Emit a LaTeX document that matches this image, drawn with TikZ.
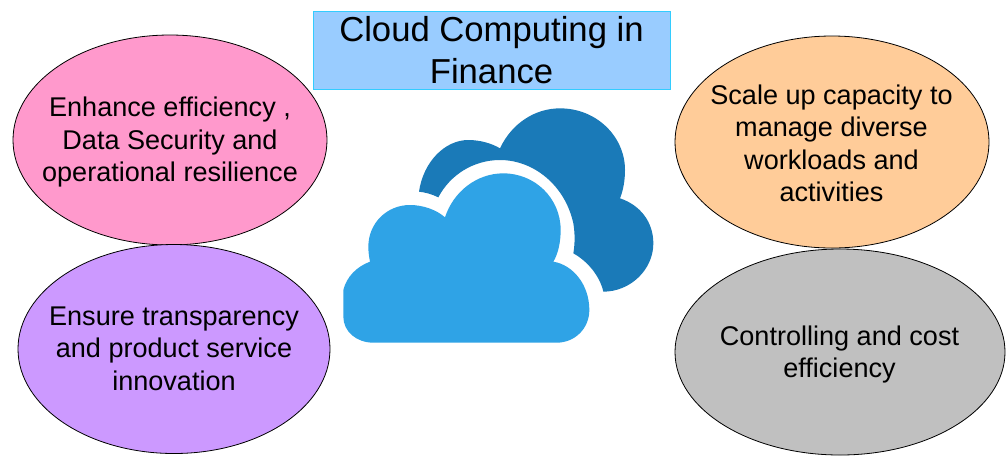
\documentclass[tikz,border=0pt]{standalone}
\usepackage{fontspec}
\setmainfont{Liberation Sans}
\definecolor{pinkfill}{HTML}{FF99CC}
\definecolor{purplefill}{HTML}{CC99FF}
\definecolor{orangefill}{HTML}{FFCC99}
\definecolor{grayfill}{HTML}{C0C0C0}
\definecolor{titlefill}{HTML}{99CCFF}
\definecolor{titleline}{HTML}{33CCFF}
\definecolor{clouddark}{HTML}{1A7AB8}
\definecolor{cloudlight}{HTML}{2FA3E6}
\tikzset{
  blob/.style={draw=black,line width=0.6pt,align=center,font=\fontsize{20.3}{24.4}\selectfont},
  titlebox/.style={draw=titleline,fill=titlefill,line width=0.6pt,align=center,font=\fontsize{26}{32}\selectfont}
}
\begin{document}
\begin{tikzpicture}[x=0.75pt,y=-0.75pt]
\useasboundingbox (0,0) rectangle (1006,455);
\fill[white] (0,0) rectangle (1006,455);
\path[blob,fill=pinkfill] (170,140) ellipse [x radius=157,y radius=105];
\path[blob,fill=purplefill] (174,349) ellipse [x radius=156,y radius=104.5];
\path[blob,fill=orangefill] (832,142) ellipse [x radius=157,y radius=106];
\path[blob,fill=grayfill] (840,352) ellipse [x radius=165,y radius=103];
\node[blob,draw=none] (pink) at (170,142) {Enhance efficiency ,\\Data Security and\\operational resilience};
\node[blob,draw=none] (purple) at (174,348.5) {Ensure transparency\\and product service\\innovation};
\node[blob,draw=none] (orange) at (831.5,143.5) {Scale up capacity to\\manage diverse\\workloads and\\activities};
\node[blob,draw=none] (gray) at (839.5,354.5) {Controlling and cost\\efficiency};
\node[titlebox,minimum width=357pt*0.75,minimum height=78pt*0.75,inner sep=0pt] (title) at (491.5,50) {Cloud Computing in\\Finance};
\begin{scope}[shift={(330,90)},x=0.25pt,y=-0.25pt]
\fill[clouddark] (267,305) .. controls (280,215) and (345,150) .. (415,150)
  .. controls (450,150) and (485,160) .. (510,175)
  .. controls (545,100) and (615,55) .. (690,55)
  .. controls (800,55) and (885,140) .. (885,240)
  .. controls (885,270) and (880,300) .. (870,325)
  .. controls (930,345) and (970,395) .. (970,460)
  .. controls (970,540) and (900,605) .. (820,605)
  .. controls (810,560) and (775,515) .. (730,490)
  .. controls (735,460) and (735,430) .. (730,400)
  .. controls (705,285) and (610,210) .. (510,210)
  .. controls (430,210) and (360,255) .. (325,322)
  .. controls (305,312) and (285,307) .. (267,305) -- cycle;
\fill[cloudlight] (120,515) .. controls (117,500) and (115,485) .. (115,470)
  .. controls (115,400) and (170,345) .. (240,345)
  .. controls (280,345) and (320,360) .. (345,382)
  .. controls (370,305) and (440,250) .. (520,250)
  .. controls (615,250) and (692,325) .. (692,420)
  .. controls (692,455) and (685,490) .. (670,515)
  .. controls (730,525) and (778,585) .. (778,660)
  .. controls (778,715) and (735,758) .. (680,758)
  -- (130,758) .. controls (80,758) and (40,725) .. (40,680)
  -- (40,600) .. controls (50,560) and (80,530) .. (120,515) -- cycle;
\end{scope}
\end{tikzpicture}
\end{document}
